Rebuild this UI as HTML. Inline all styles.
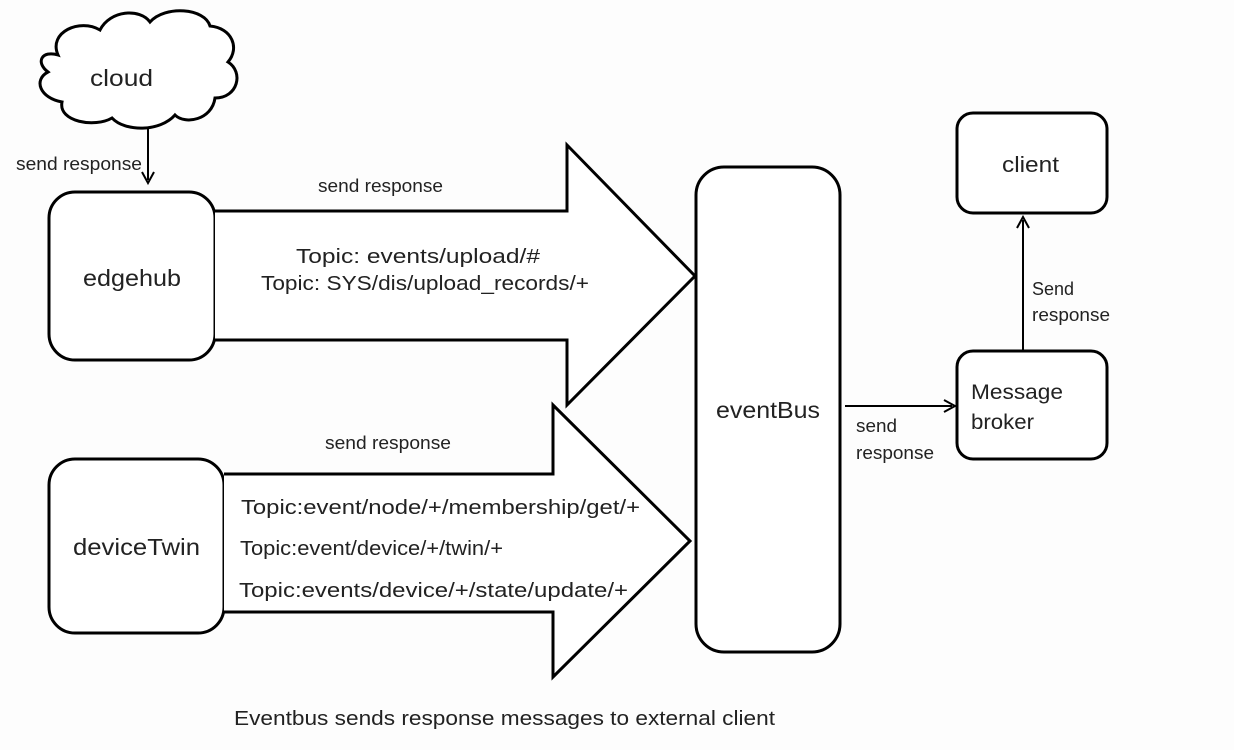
<!DOCTYPE html>
<html><head><style>
body{margin:0;background:#fff;}
svg text{font-family:"Liberation Sans","DejaVu Sans",sans-serif;fill:#222;}
</style></head><body>
<svg width="1234" height="750" viewBox="0 0 1234 750" xmlns="http://www.w3.org/2000/svg">
<rect width="1234" height="750" fill="#fdfdfd"/>
<g fill="#fff" stroke="#000" stroke-width="3" stroke-linejoin="miter">
<path d="M58,55 C48,32 80,18 100,30 C110,10 140,8 150,22 C165,5 205,8 210,26 C232,28 240,48 228,62 C244,72 238,98 215,98 C212,120 185,125 175,115 C160,132 125,132 112,118 C95,128 58,122 62,102 C40,98 33,80 48,72 C35,62 42,50 58,55 Z"/>
<rect x="49" y="192" width="166" height="168" rx="26"/>
<rect x="49" y="459" width="175" height="174" rx="26"/>
<rect x="696" y="167" width="144" height="485" rx="28"/>
<rect x="957" y="113" width="150" height="100" rx="16"/>
<rect x="957" y="351" width="150" height="108" rx="16"/>
<path d="M215,211 L567,211 L567,145 L695,276 L567,405 L567,340 L215,340"/>
<path d="M224,474 L553,474 L553,405 L690,541 L553,677 L553,612 L224,612"/>
</g>
<g stroke="#000" stroke-width="2" fill="none">
<line x1="148" y1="128" x2="148" y2="180"/>
<polyline points="142,172 148,183 154,172"/>
<line x1="845" y1="406" x2="952" y2="406"/>
<polyline points="944,400 955,406 944,412"/>
<line x1="1023" y1="351" x2="1023" y2="220"/>
<polyline points="1017,228 1023,217 1029,228"/>
</g>
<g lengthAdjust="spacingAndGlyphs">
<text x="90" y="86" font-size="23" textLength="63" lengthAdjust="spacingAndGlyphs">cloud</text>
<text x="16" y="170" font-size="18" textLength="126" lengthAdjust="spacingAndGlyphs">send response</text>
<text x="83" y="286" font-size="23" textLength="98" lengthAdjust="spacingAndGlyphs">edgehub</text>
<text x="73" y="555" font-size="23" textLength="127" lengthAdjust="spacingAndGlyphs">deviceTwin</text>
<text x="716" y="418" font-size="23" textLength="104" lengthAdjust="spacingAndGlyphs">eventBus</text>
<text x="1002" y="172" font-size="22" textLength="57" lengthAdjust="spacingAndGlyphs">client</text>
<text x="971" y="399" font-size="21" textLength="92" lengthAdjust="spacingAndGlyphs">Message</text>
<text x="971" y="429" font-size="21" textLength="63" lengthAdjust="spacingAndGlyphs">broker</text>
<text x="318" y="192" font-size="18" textLength="125" lengthAdjust="spacingAndGlyphs">send response</text>
<text x="325" y="449" font-size="18" textLength="126" lengthAdjust="spacingAndGlyphs">send response</text>
<text x="296" y="263" font-size="20" textLength="244" lengthAdjust="spacingAndGlyphs">Topic: events/upload/#</text>
<text x="261" y="290" font-size="20" textLength="328" lengthAdjust="spacingAndGlyphs">Topic: SYS/dis/upload_records/+</text>
<text x="241" y="514" font-size="20" textLength="399" lengthAdjust="spacingAndGlyphs">Topic:event/node/+/membership/get/+</text>
<text x="240" y="555" font-size="20" textLength="263" lengthAdjust="spacingAndGlyphs">Topic:event/device/+/twin/+</text>
<text x="239" y="597" font-size="20" textLength="389" lengthAdjust="spacingAndGlyphs">Topic:events/device/+/state/update/+</text>
<text x="856" y="432" font-size="18" textLength="41" lengthAdjust="spacingAndGlyphs">send</text>
<text x="856" y="459" font-size="18" textLength="78" lengthAdjust="spacingAndGlyphs">response</text>
<text x="1032" y="295" font-size="18" textLength="42" lengthAdjust="spacingAndGlyphs">Send</text>
<text x="1032" y="321" font-size="18" textLength="78" lengthAdjust="spacingAndGlyphs">response</text>
<text x="234" y="725" font-size="20" textLength="541" lengthAdjust="spacingAndGlyphs">Eventbus sends response messages to external client</text>
</g>
</svg>
</body></html>
